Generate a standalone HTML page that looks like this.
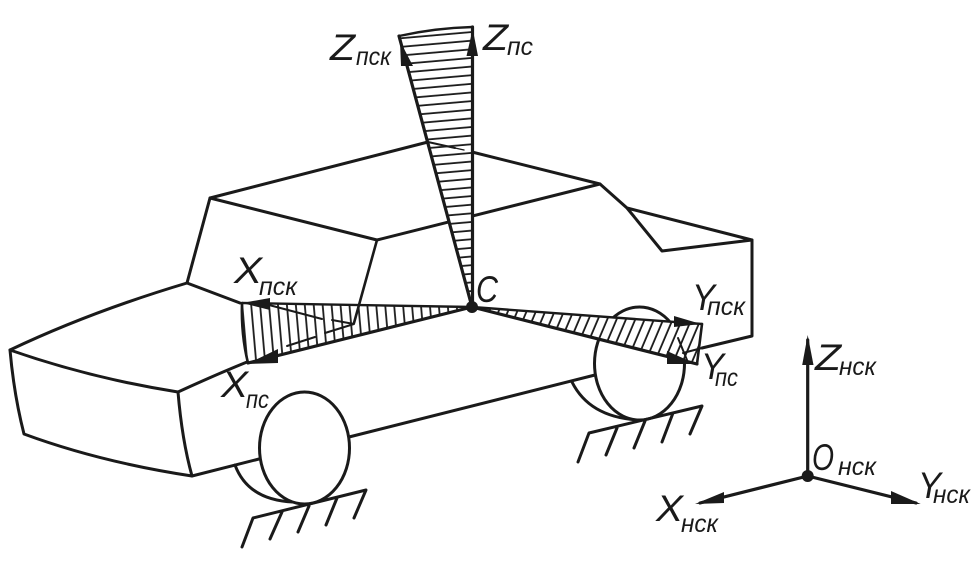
<!DOCTYPE html>
<html><head><meta charset="utf-8"><style>
html,body{margin:0;padding:0;background:#fff}
svg{display:block}
text{font-family:"Liberation Sans",sans-serif;font-style:italic;fill:#1a1a1a}
.b{font-size:37px}.s{font-size:25px}
</style></head><body>
<svg width="980" height="567" viewBox="0 0 980 567" xmlns="http://www.w3.org/2000/svg">
<defs>
<pattern id="hz" width="40" height="8.6" patternUnits="userSpaceOnUse" patternTransform="translate(472 31) rotate(-5)"><line x1="0" y1="1" x2="40" y2="1" stroke="#1a1a1a" stroke-width="1.8"/></pattern>
<pattern id="hx" width="8.9" height="40" patternUnits="userSpaceOnUse" patternTransform="translate(250 303) rotate(-5)"><line x1="1" y1="0" x2="1" y2="40" stroke="#1a1a1a" stroke-width="1.8"/></pattern>
<pattern id="hy" width="8.6" height="40" patternUnits="userSpaceOnUse" patternTransform="translate(690 320) rotate(23)"><line x1="1" y1="0" x2="1" y2="40" stroke="#1a1a1a" stroke-width="1.8"/></pattern>
</defs>
<g fill="none" stroke="#1a1a1a" stroke-width="3" stroke-linejoin="round" stroke-linecap="round">
<path d="M10 350Q90 312 187 283L240 303"/>
<path d="M10 350Q90 378 178 392Q182 440 192 476Q100 462 24 434Q14 395 10 350Z"/>
<path d="M178 392Q215 375 247 362"/>
<path d="M192 476L259 459"/>
<path d="M349 437L595 375"/>
<path d="M187 283L210 198L428 142L455 148"/>
<path d="M464 150L600 184"/>
<path d="M210 198L377 240L600 184L627 208L662 251L752 240L627 208"/>
<path d="M752 240V336L702 348"/>
<path d="M572 382Q590 418 640 420"/>
<ellipse cx="639.5" cy="363.5" rx="45" ry="56.5" fill="#fff"/>
<path d="M235 465Q248 500 293 502"/>
<ellipse cx="304.5" cy="448" rx="45" ry="56" fill="#fff"/>
<path d="M242 547L253 518L366 490L354 518M282 512L270 539M309 506L298 532M337 498L326 525"/>
<path d="M578 462L589 433L702 406L690 434M617 428L606 455M645 421L634 448M673 413L662 442"/>
</g>
<path d="M399 36Q435 28 472.500 27V307Z" fill="#fff"/>
<path d="M399 36Q435 28 472.500 27V307Z" fill="url(#hz)"/>
<path d="M472 307L242 303Q241 335 248 363Z" fill="#fff"/>
<path d="M472 307L242 303Q241 335 248 363Z" fill="url(#hx)"/>
<path d="M472 307L702 324L697 364Z" fill="#fff"/>
<path d="M472 307L702 324L697 364Z" fill="url(#hy)"/>
<g fill="none" stroke="#1a1a1a" stroke-linejoin="round" stroke-linecap="round">
<path d="M399 36Q435 28 472.500 27" stroke-width="2.4"/>
<path d="M399 36L472 307" stroke-width="3.2"/>
<path d="M472.500 27V307" stroke-width="3.2"/>
<path d="M472 307L242 303" stroke-width="2.4"/>
<path d="M242 303Q241 335 248 363" stroke-width="2.6"/>
<path d="M472 307L248 363" stroke-width="3.2"/>
<path d="M472 307L702 324" stroke-width="2.4"/>
<path d="M702 324L697 364" stroke-width="2.6"/>
<path d="M472 307L697 364" stroke-width="3.2"/>
<path d="M455 148L464 150" stroke-width="1.4"/>
<path d="M428 142L455 148" stroke-width="2"/>
<path d="M377 240L354 323" stroke-width="2.6"/>
<path d="M269 305L322 319M332 320L354 324L325 333M315 337L287 346" stroke-width="2"/>
<path d="M702 348L683 353M678 338L687 360" stroke-width="2"/>
<path d="M807.700 476V340M807.700 476L700 503M807.700 476L916 503" stroke-width="3.2"/>
</g>
<g fill="#1a1a1a">
<path d="M472.700 29L478 56H466.500Z"/>
<path d="M400 41L413 66H401Z"/>
<path d="M242 303L270 298V310Z"/>
<path d="M247 364L278 349V363Z"/>
<path d="M701 324L674 316V327Z"/>
<path d="M696 364L667 351V364Z"/>
<path d="M807.700 335L813.500 365H802.200Z"/>
<path d="M695 504L724 492V503Z"/>
<path d="M920.700 504L891 491V504Z"/>
<circle cx="472" cy="307" r="6"/>
<circle cx="807.700" cy="476" r="6"/>
</g>
<text class="b" x="330" y="60" textLength="25" lengthAdjust="spacingAndGlyphs">Z</text>
<text class="s" x="356" y="65" textLength="35" lengthAdjust="spacingAndGlyphs">пск</text>
<text class="b" x="483" y="50" textLength="25" lengthAdjust="spacingAndGlyphs">Z</text>
<text class="s" x="507" y="55" textLength="26" lengthAdjust="spacingAndGlyphs">пс</text>
<text class="b" x="476" y="302" textLength="22" lengthAdjust="spacingAndGlyphs">С</text>
<text class="b" x="234" y="283" textLength="28" lengthAdjust="spacingAndGlyphs">X</text>
<text class="s" x="259" y="295" textLength="38" lengthAdjust="spacingAndGlyphs">пск</text>
<text class="b" x="221" y="397" textLength="27" lengthAdjust="spacingAndGlyphs">X</text>
<text class="s" x="246" y="408" textLength="23" lengthAdjust="spacingAndGlyphs">пс</text>
<text class="b" x="692" y="310" textLength="23" lengthAdjust="spacingAndGlyphs">Y</text>
<text class="s" x="707" y="315" textLength="38" lengthAdjust="spacingAndGlyphs">пск</text>
<text class="b" x="701" y="379" textLength="23" lengthAdjust="spacingAndGlyphs">Y</text>
<text class="s" x="715" y="386" textLength="23" lengthAdjust="spacingAndGlyphs">пс</text>
<text class="b" x="815" y="370" textLength="26" lengthAdjust="spacingAndGlyphs">Z</text>
<text class="s" x="839" y="375" textLength="37" lengthAdjust="spacingAndGlyphs">нск</text>
<text class="b" x="812" y="470" textLength="22" lengthAdjust="spacingAndGlyphs">O</text>
<text class="s" x="838" y="475" textLength="38" lengthAdjust="spacingAndGlyphs">нск</text>
<text class="b" x="918" y="498" textLength="23" lengthAdjust="spacingAndGlyphs">Y</text>
<text class="s" x="933" y="503" textLength="37" lengthAdjust="spacingAndGlyphs">нск</text>
<text class="b" x="656" y="521" textLength="27" lengthAdjust="spacingAndGlyphs">X</text>
<text class="s" x="681" y="532" textLength="37" lengthAdjust="spacingAndGlyphs">нск</text>
</svg>
</body></html>
